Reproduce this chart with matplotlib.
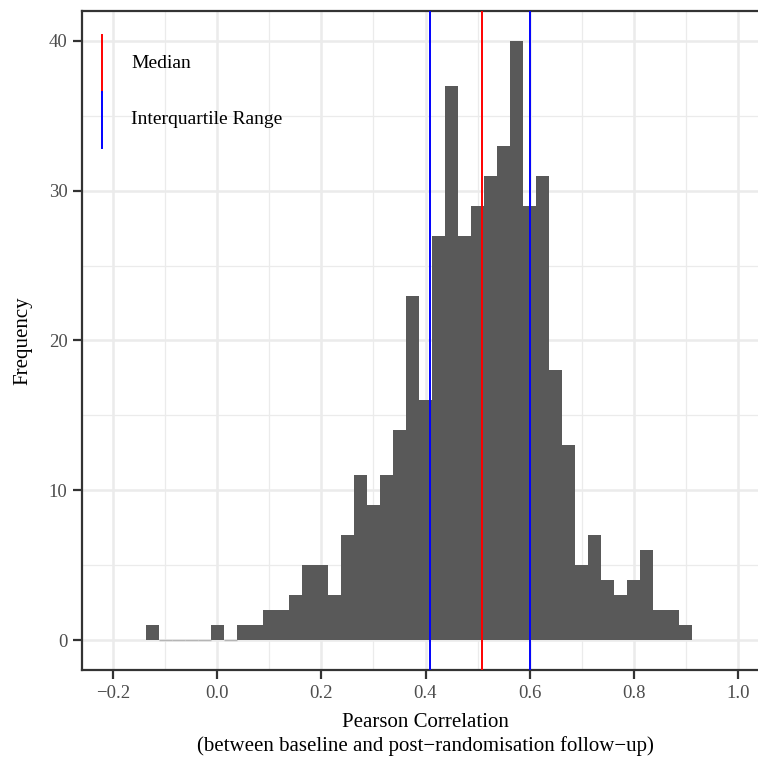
import numpy as np
import matplotlib
matplotlib.use("Agg")
from matplotlib import pyplot as plt
from matplotlib.lines import Line2D

# histogram counts, bins of width 0.025 centred on -0.125 ... 0.900
bin_width = 0.025
first_edge = -0.1375
counts = [1, 0, 0, 0, 0, 1, 0, 1, 1, 2, 2, 3, 5, 5, 3, 7, 11, 9, 11, 14,
          23, 16, 27, 37, 27, 29, 31, 33, 40, 29, 31, 18, 13, 5, 7, 4, 3, 4,
          6, 2, 2, 1]

median_value = 0.508
iqr_values = [0.409, 0.600]

x_ticks = [-0.2, 0.0, 0.2, 0.4, 0.6, 0.8, 1.0]
y_ticks = [0, 10, 20, 30, 40]

plt.rcParams['font.family'] = ['Liberation Serif', 'DejaVu Serif']

W, H = 758, 763
fig = plt.figure(figsize=(W / 100, H / 100), dpi=100)

# panel runs past the right edge of the picture (cropped)
left, right, top, bottom = 82, 769, 11, 670
ax = fig.add_axes([left / W, 1 - bottom / H, (right - left) / W, (bottom - top) / H])

edges = first_edge + bin_width * np.arange(len(counts))
counts = np.array(counts)
ax.bar(edges, counts, width=bin_width, align='edge', color='#595959',
       linewidth=0, zorder=2)
zero = counts == 0
ax.hlines(np.zeros(zero.sum()), edges[zero], edges[zero] + bin_width,
          color='#b5b5b5', lw=1.0, zorder=2)

ax.axvline(median_value, color='#FF0000', lw=1.4, zorder=3)
for v in iqr_values:
    ax.axvline(v, color='#0000FF', lw=1.4, zorder=3)

ax.set_xlim(-0.26, 1.06)
ax.set_ylim(-2, 42)
ax.set_xticks(x_ticks)
ax.set_xticklabels(['\u22120.2', '0.0', '0.2', '0.4', '0.6', '0.8', '1.0'])
ax.set_yticks(y_ticks)
ax.set_xticks(np.array(x_ticks[:-1]) + 0.1, minor=True)
ax.set_yticks(np.array(y_ticks[:-1]) + 5, minor=True)

ax.grid(which='major', color='#EBEBEB', lw=1.8, zorder=0)
ax.grid(which='minor', color='#EBEBEB', lw=0.9, zorder=0)
ax.set_axisbelow(True)

for s in ax.spines.values():
    s.set_color('#333333')
    s.set_linewidth(1.6)
ax.spines['right'].set_visible(False)

ax.tick_params(which='major', length=6.5, width=1.6, color='#333333',
               labelsize=13.5, labelcolor='#4D4D4D', pad=4)
ax.tick_params(which='minor', length=0)

ax.set_xlabel('Pearson Correlation\n(between baseline and post\u2212randomisation follow\u2212up)',
              fontsize=15, linespacing=1.3, labelpad=8)
ax.set_ylabel('Frequency', fontsize=15, labelpad=12)

# legend drawn by hand: vertical key lines as in the original
def key(y0, y1, col, label):
    fig.add_artist(Line2D([102 / W, 102 / W], [1 - y0 / H, 1 - y1 / H],
                          color=col, lw=1.4))
    fig.text(131 / W, 1 - (y0 + y1) / 2 / H, label, fontsize=14,
             va='center', ha='left')

key(35, 92, '#FF0000', 'Median')
key(92, 148, '#0000FF', 'Interquartile Range')

fig.savefig('out.png', dpi=100)
